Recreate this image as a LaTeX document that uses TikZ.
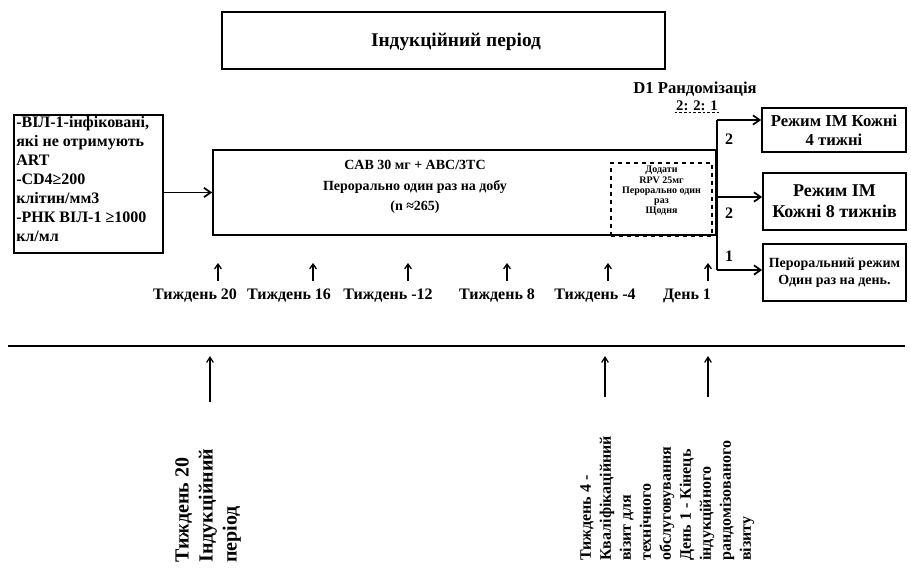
\documentclass[tikz,border=0pt]{standalone}
\usepackage{fontspec}
\setmainfont{Liberation Serif}
\usetikzlibrary{arrows.meta}
\begin{document}
\begin{tikzpicture}[x=0.75pt,y=-0.75pt,
  font=\bfseries,
  wh/.style 2 args={minimum width={#1*0.75pt},minimum height={#2*0.75pt}},
  box/.style={draw, line width=1.3pt, inner sep=1.5pt},
  fs/.style 2 args={font=\bfseries\fontsize{#1}{#2}\selectfont},
  arr/.style={-{Straight Barb[length=5pt,width=7pt]}, line width=1.3pt},
  tick/.style={-{Straight Barb[length=3.5pt,width=5pt]}, line width=1pt},
  longtick/.style={-{Straight Barb[length=4pt,width=5pt]}, line width=0.9pt},
  lbl/.style={fs={12}{14}, inner sep=0pt},
  vtext/.style={rotate=90, anchor=north west, align=left, inner sep=0pt}
]
\useasboundingbox (0,0) rectangle (911,575);

% induction period header
\node[box, wh={443}{57}] (induct) at (443.5,40.5) {};
\node[fs={14.5}{16}, inner sep=0pt] (inducttxt) at (456,42) {Індукційний період};

% eligibility criteria
\node[box, wh={149}{138}] (elig) at (88.5,184) {};
\node[anchor=north west, align=left, fs={12}{14.25}, inner sep=0pt] (eligtxt) at (16,116)
  {-ВІЛ-1-інфіковані,\\які не отримують\\ART\\-CD4≥200\\клітин/мм3\\-РНК ВІЛ-1 ≥1000\\кл/мл};

% oral induction regimen
\node[box, wh={503}{85}] (main) at (464.5,192.5) {};
\node[fs={10.5}{15.5}, align=center, inner sep=0pt] (maintxt) at (415,187)
  {CAB 30 мг + ABC/3TC\\Перорально один раз на добу\\(n ≈265)};
\node[draw, dashed, line width=1.1pt, wh={101}{73}] (rpv) at (661.5,199.5) {};
\node[align=center, fs={7.5}{7.6}, inner sep=0pt] (rpvtxt) at (661.5,191)
  {Додати\\RPV 25мг\\Перорально один\\раз\\Щодня};

\draw[arr] (elig.east |- main.west) -- (main.west);

% randomisation
\node[fs={12.5}{14}, inner sep=0pt] (rand) at (695,89) {D1 Рандомізація};
\node[fs={11}{13}, inner sep=1pt] (ratio) at (697,106) {2: 2: 1};
\draw[dash pattern=on 2pt off 1.5pt, line width=0.7pt] (ratio.south west) -- (ratio.south east);

\node[box, wh={144}{44}, align=center, fs={12.5}{14.5}] (arm1) at (834,130) {Режим IM Кожні\\4 тижні};
\node[box, wh={143}{57}, align=center, fs={13.5}{15.5}] (arm2) at (834.5,201.5) {Режим IM\\Кожні 8 тижнів};
\node[box, wh={143}{57}, align=center, fs={10.5}{13}] (arm3) at (834.5,272.5) {Пероральний режим\\Один раз на день.};

\coordinate (jtop) at (717,120);
\coordinate (jmid) at (717,197);
\coordinate (jbot) at (717,270);
\draw[line width=1.3pt] (jtop) -- (jbot);
\draw[arr] (jtop) -- (jtop -| arm1.west);
\draw[arr] (jmid) -- (jmid -| arm2.west);
\draw[arr] (jbot) -- (jbot -| arm3.west);
\node[fs={12}{14}] (r1) at (729,139) {2};
\node[fs={12}{14}] (r2) at (729,213) {2};
\node[fs={12}{14}] (r3) at (729,256) {1};

% visit timeline
\foreach \ax/\lx/\t [count=\i] in {218/195/Тиждень 20, 313/289/Тиждень 16, 408/388/Тиждень -12,
    507/497/Тиждень 8, 608/595/Тиждень -4, 708/687/День 1} {
  \coordinate (tb\i) at (\ax,281);
  \coordinate (tt\i) at (\ax,263);
  \draw[tick] (tb\i) -- (tt\i);
  \node[lbl] (tl\i) at (\lx,296) {\t};
}

% separator
\coordinate (sepL) at (8,346);
\coordinate (sepR) at (905,346);
\draw[line width=1.3pt] (sepL) -- (sepR);

% key visits
\coordinate (k1b) at (210,402); \coordinate (k1t) at (210,356);
\coordinate (k2b) at (605,397); \coordinate (k2t) at (605,356);
\coordinate (k3b) at (708,397); \coordinate (k3t) at (708,356);
\draw[longtick] (k1b) -- (k1t);
\draw[longtick] (k2b) -- (k2t);
\draw[longtick] (k3b) -- (k3t);

\node[vtext, fs={15}{18}] (kv1) at (175,563) {Тиждень 20\\Індукційний\\період};
\node[vtext, fs={12}{15}] (kv2) at (580,561)
  {Тиждень 4 -\\Кваліфікаційний\\візит для\\технічного\\обслуговування\\День 1 - Кінець\\індукційного\\рандомізованого\\візиту};
\end{tikzpicture}
\end{document}
